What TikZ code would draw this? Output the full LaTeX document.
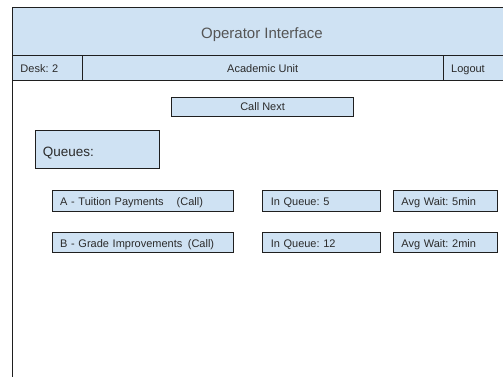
\documentclass[tikz,border=0pt]{standalone}
\usepackage{fontspec}
\setmainfont{Liberation Sans}
\definecolor{panel}{HTML}{CFE2F3}
\definecolor{edge}{HTML}{1F1F1F}
\definecolor{ink}{HTML}{2B2B2B}
\definecolor{titleink}{HTML}{555555}
\tikzset{
  panelbox/.style={draw=edge, fill=panel, line width=0.9pt, rectangle,
    anchor=north west, inner ysep=0pt, text height=9pt, text depth=0pt,
    font=\fontsize{11}{13}\selectfont, text=ink},
  lbox/.style={panelbox, inner xsep=8pt, align=left},
  cbox/.style={panelbox, inner xsep=0pt, align=center},
}
\begin{document}
\frenchspacing
\begin{tikzpicture}[x=1pt, y=-1pt]
  \useasboundingbox (0,0) rectangle (503,377);
  \clip (0,0) rectangle (503,377);
  % outer window frame
  \draw[draw=edge, line width=1pt] (12,7.5) rectangle (511,420);
  % title bar
  \node[cbox, minimum width=499pt, minimum height=48pt, text height=12.4pt,
        font=\fontsize{15}{18}\selectfont, text=titleink] (title) at (12,7.5) {Operator Interface};
  % status row
  \node[lbox, minimum height=25pt, text width=53.5pt] (desk) at (12,55.5) {Desk: 2};
  \node[cbox, minimum width=361.5pt, minimum height=25pt] (unit) at (81.5,55.5) {Academic Unit};
  \node[lbox, minimum height=25pt, text width=52pt, inner xsep=7.7pt] (logout) at (443,55.5) {Logout};
  % call button
  \node[cbox, minimum width=182.3pt, minimum height=19.3pt, text height=7.8pt] (next) at (171,96.7) {Call Next};
  % queue header
  \node[lbox, minimum height=38.3pt, text width=109.4pt, inner xsep=7.3pt,
        text height=13.5pt, font=\fontsize{13.5}{16}\selectfont] (queues) at (35,130) {Queues:};
  % queue rows
  \node[lbox, minimum height=20.7pt, text width=165.6pt] (qa) at (51.7,190)
        {A - Tuition Payments\hspace{13pt}(Call)};
  \node[lbox, minimum height=19.7pt, text width=165.6pt] (qb) at (51.7,232.3)
        {B - Grade Improvements\hspace{5.5pt}(Call)};
  \node[lbox, minimum height=20.7pt, text width=101.4pt] (na) at (262.3,190) {In Queue: 5};
  \node[lbox, minimum height=19.7pt, text width=101.4pt] (nb) at (262.3,232.3) {In Queue: 12};
  \node[lbox, minimum height=20.7pt, text width=87.7pt] (wa) at (393,190) {Avg Wait: 5min};
  \node[lbox, minimum height=19.7pt, text width=87.7pt] (wb) at (393,232.3) {Avg Wait: 2min};
\end{tikzpicture}
\end{document}
